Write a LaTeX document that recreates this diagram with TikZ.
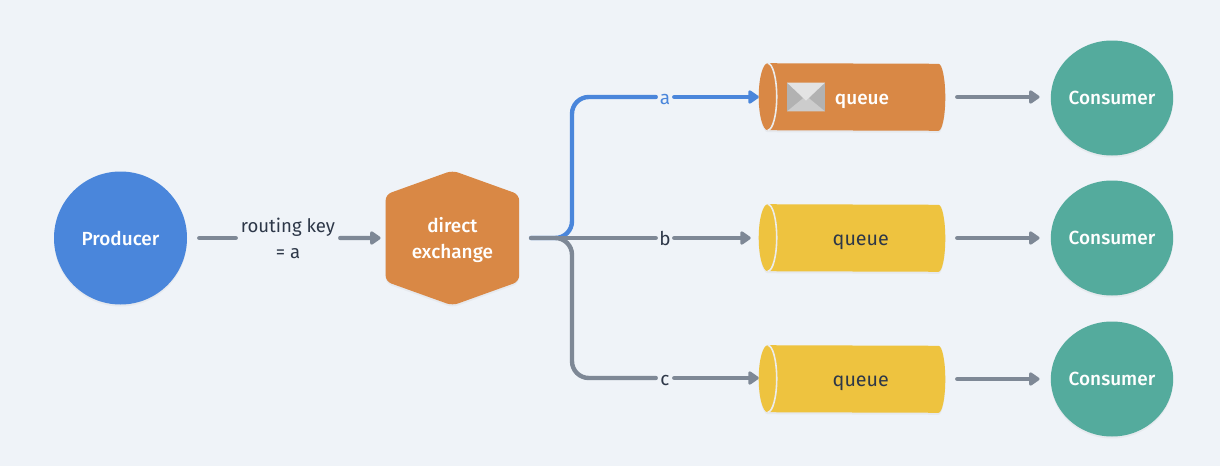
\documentclass[tikz,border=0pt]{standalone}
\usepackage{fontspec}
\setmainfont{Fira Sans}
\newfontfamily\medfont{Fira Sans Medium}
\usetikzlibrary{shapes,arrows.meta,positioning,calc,backgrounds,shadows}
\definecolor{pagebg}{HTML}{EFF3F8}
\definecolor{prodblue}{HTML}{4A86DB}
\definecolor{exorange}{HTML}{D98845}
\definecolor{queyellow}{HTML}{EEC33F}
\definecolor{consteal}{HTML}{54AB9D}
\definecolor{linegray}{HTML}{7E8896}
\definecolor{inkdark}{HTML}{2D3748}

\begin{document}
\begin{tikzpicture}[
  softshadow/.style={drop shadow={shadow xshift=0cm, shadow yshift=-0.05cm, opacity=0.08}},
  whitetxt/.style={text=white, font=\medfont\fontsize{13.5}{14}\selectfont},
  prod/.style={circle, fill=prodblue, softshadow, minimum size=3.325cm, inner sep=0pt, whitetxt},
  exch/.style={minimum width=3.325cm, minimum height=3.36cm, inner sep=0pt, align=center, text=white, font=\medfont\fontsize{13.5}{18.5}\selectfont},
  que/.style={minimum width=4.65cm, minimum height=1.675cm, inner sep=0pt},
  quetxt/.style={text=inkdark, font=\fontsize{14}{14}\selectfont},
  rim/.style={draw=white!85!gray, line width=0.04cm},
  cons/.style={ellipse, fill=consteal, softshadow, minimum width=3cm, minimum height=2.875cm, inner sep=0pt, whitetxt},
  lbl/.style={inner sep=0pt, minimum width=0.45cm, text height=0.42cm, text depth=0.05cm, text=inkdark, font=\fontsize{13.5}{14}\selectfont},
  wire/.style={draw=linegray, line width=0.11cm, line cap=round},
  flow/.style={wire, -{Triangle[length=0.29cm,width=0.38cm,round]}}
]
\useasboundingbox (0,0) rectangle (30.5,11.65);

\node[prod] (producer) at (3.0125,5.7) {Producer};
\node[inner sep=0pt, minimum width=2.5cm, align=center, text=inkdark, font=\fontsize{13.2}{18.5}\selectfont] (rkey) at (7.2,5.7) {routing key\\= a};
\node[exch] (exchange) at (11.31,5.7) {\rule{0pt}{0.46cm}direct\\exchange};
\node[que] (qa) at (21.3,9.225) {};
\node[que] (qb) at (21.3,5.7) {};
\node[que] (qc) at (21.3,2.175) {};

\begin{scope}[on background layer]
  \fill[pagebg] (0,0) rectangle (30.5,11.65);
  \fill[exorange, softshadow, rounded corners=0.15cm] (exchange.north)
    -- ($(exchange.north east)+(0,-0.6)$) -- ($(exchange.south east)+(0,0.6)$)
    -- (exchange.south)
    -- ($(exchange.south west)+(0,0.6)$) -- ($(exchange.north west)+(0,-0.6)$) -- cycle;
  \foreach \q/\c in {qa/exorange,qb/queyellow,qc/queyellow} {
    \fill[\c, softshadow] ($(\q.north west)+(0.225,0)$)
      arc[start angle=90, end angle=270, x radius=0.225, y radius=0.8375]
      -- ($(\q.south east)+(-0.17,0)$)
      arc[start angle=-90, end angle=90, x radius=0.17, y radius=0.8375] -- cycle;
  }
\end{scope}

\foreach \q in {qa,qb,qc} {
  \draw[rim] ($(\q.north west)+(0.225,0)$) arc[start angle=90, end angle=-90, x radius=0.225, y radius=0.8375];
}
\node[whitetxt] (qatxt) at (21.55,9.125) {queue};
\node[quetxt] (qbtxt) at (21.52,5.6) {queue};
\node[quetxt] (qctxt) at (21.52,2.075) {queue};

% envelope
\begin{scope}[shift={(20.15,9.225)}]
  \fill[black!30] (-0.475,-0.36) rectangle (0.475,0.36);
  \fill[black!20] (-0.475,-0.36) -- (0,0.03) -- (0.475,-0.36) -- cycle;
  \fill[black!11] (-0.475,0.36) -- (0,-0.09) -- (0.475,0.36) -- cycle;
\end{scope}

\node[cons] (ca) at (27.8,9.2) {Consumer};
\node[cons] (cb) at (27.8,5.7) {Consumer};
\node[cons] (cc) at (27.8,2.175) {Consumer};

\node[lbl, text=prodblue] (la) at (16.625,9.225) {a};
\node[lbl] (lb) at (16.625,5.7) {b};
\node[lbl] (lc) at (16.625,2.2) {c};
\coordinate (fork) at (14.3,5.7);

\draw[wire, shorten <=0.3cm, shorten >=0.05cm] (producer.east) -- (rkey.west);
\draw[flow, shorten <=0.05cm, shorten >=0.125cm] (rkey.east) -- ($(exchange.north west)!0.5!(exchange.south west)$);

\draw[wire, draw=prodblue, rounded corners=0.42cm, shorten <=0.3cm] (exchange.east) -- (fork) -- (fork |- la) -- (la.west);
\draw[flow, draw=prodblue, prodblue] (la.east) -- (qa.west);
\draw[wire, shorten <=0.3cm] (exchange.east) -- (lb.west);
\draw[flow, shorten >=0.2cm] (lb.east) -- (qb.west);
\draw[wire, rounded corners=0.42cm, shorten <=0.3cm] (exchange.east) -- (fork) -- (fork |- lc) -- (lc.west);
\draw[flow] (lc.east) -- (qc.west |- lc);

\draw[flow, shorten <=0.3cm, shorten >=0.275cm] (qa.east) -- (qa.east -| ca.west);
\draw[flow, shorten <=0.3cm, shorten >=0.275cm] (qb.east) -- (cb.west);
\draw[flow, shorten <=0.3cm, shorten >=0.275cm] (qc.east) -- (cc.west);
\end{tikzpicture}
\end{document}
